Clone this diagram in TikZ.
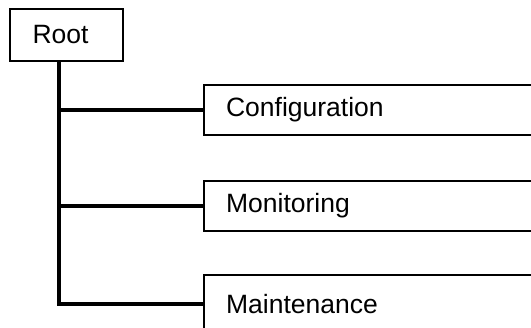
\documentclass[tikz,border=0pt]{standalone}
\usepackage{fontspec}
\setmainfont{Liberation Sans}
\tikzset{
  box/.style = {draw, line width = 2.2pt, inner sep = 0pt, align = left, font = \fontsize{26.5}{30}\selectfont},
  rootbox/.style = {box, minimum height = 52pt, text width = 68pt, inner xsep = 22.5pt},
  leafbox/.style = {box, anchor = west, minimum height = 50pt, text width = 320pt, inner xsep = 22pt},
  wire/.style = {line width = 3.2pt}
}
\begin{document}
\begin{tikzpicture}[x = 1pt, y = -1pt]
    \path [use as bounding box, clip] (0,0) rectangle (531,328);
    \node [rootbox] (root) at (66.5,35) {Root};
    \node [leafbox] (config) at (203,110) {Configuration};
    \node [leafbox] (monitor) at (203,206) {Monitoring};
    \node [leafbox, minimum height = 58pt] (maint) at (203,304) {Maintenance};
    \coordinate (trunk) at ([xshift = -7.5pt]root.south);
    \draw [wire] (trunk) |- (maint.west);
    \draw [wire] (trunk |- config.west) -- (config.west);
    \draw [wire] (trunk |- monitor.west) -- (monitor.west);
  \end{tikzpicture}
\end{document}
